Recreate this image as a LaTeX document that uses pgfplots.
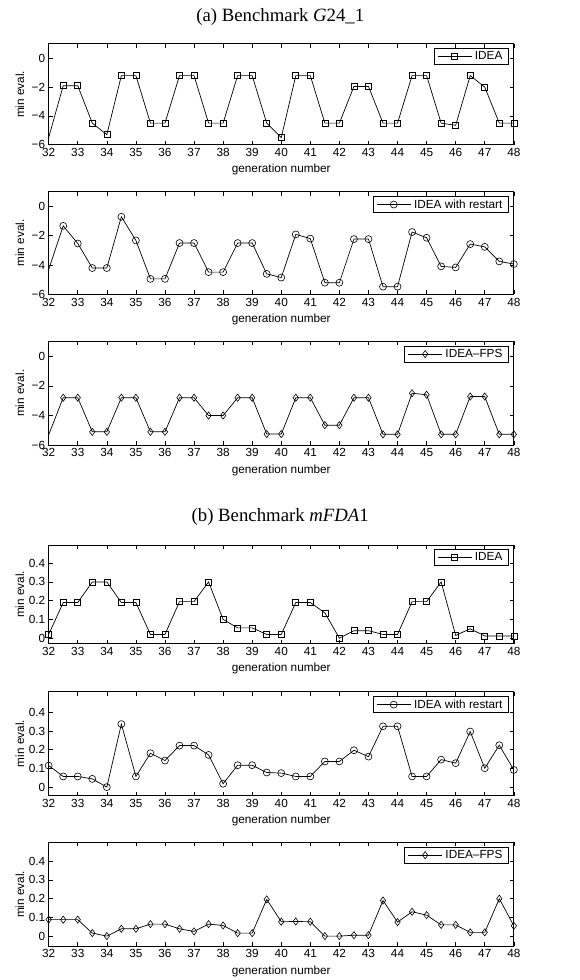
\documentclass[border=0pt]{standalone}
\usepackage{pgfplots}
\pgfplotsset{compat=1.18}
\usepackage{fontspec}
\setmainfont{Liberation Sans}
\newfontfamily\timesfont{Liberation Serif}
\begin{document}
\pgfplotsset{
  myax/.style={
    scale only axis, width=466pt,
    xmin=32, xmax=48, xtick={32,33,...,48},
    axis line style={line width=0.9pt},
    every tick/.style={black, line width=0.6pt},
    major tick length=4pt,
    tick label style={font=\fontsize{11.8}{13}\selectfont},
    label style={font=\fontsize{11.8}{13}\selectfont},
    /pgf/number format/assume math mode=true,
    xlabel={generation number},
    ylabel={min eval.},
    xlabel style={at={(axis description cs:0.5,0)}, anchor=center, yshift=-25pt},
    ylabel style={at={(axis description cs:-0.062,0.5)}, anchor=center},
    legend style={at={(1,1)}, xshift=-5pt, yshift=-4.5pt, anchor=north east,
      draw=black, line width=0.8pt, font=\fontsize{11.8}{13}\selectfont,
      inner xsep=3pt, inner ysep=1.5pt, nodes={inner xsep=3pt, inner ysep=1.5pt}},
    legend image code/.code={\draw[mark repeat=2,mark phase=2,#1] plot coordinates {(0pt,0pt) (17pt,0pt) (34pt,0pt)};},
    every axis plot/.append style={black, line width=0.7pt, mark options={solid, line width=0.6pt}},
  },
  gax/.style={myax, ymin=-6, ymax=1, ytick={-6,-4,-2,0}, yticklabels={−6,−4,−2,0}},
  fax/.style={myax, ytick={0,0.1,0.2,0.3,0.4}, yticklabels={0,0.1,0.2,0.3,0.4}},
}
\begin{tikzpicture}
\path (0pt,0pt) rectangle (578pt,-980pt);
\node[font=\timesfont\fontsize{18.8}{21}\selectfont] at (278pt,-17pt) {(a) Benchmark \textit{G}24\_1};
\node[font=\timesfont\fontsize{18.8}{21}\selectfont] at (278pt,-518pt) {(b) Benchmark \textit{mFDA}1};

% G24_1 IDEA
\begin{axis}[gax, at={(46pt,-145pt)}, anchor=south west, height=101pt]
\addplot[mark=square, mark size=3pt, mark phase=2, mark repeat=1] coordinates {
(32,-5.5) (32.5,-1.9) (33,-1.9) (33.5,-4.5) (34,-5.3) (34.5,-1.2) (35,-1.2) (35.5,-4.5) (36,-4.5)
(36.5,-1.2) (37,-1.2) (37.5,-4.5) (38,-4.5) (38.5,-1.2) (39,-1.2) (39.5,-4.5) (40,-5.5)
(40.5,-1.2) (41,-1.2) (41.5,-4.5) (42,-4.5) (42.5,-1.95) (43,-1.95) (43.5,-4.5) (44,-4.5)
(44.5,-1.2) (45,-1.2) (45.5,-4.5) (46,-4.65) (46.5,-1.2) (47,-2.0) (47.5,-4.5) (48,-4.5)};
\addlegendentry{IDEA}
\end{axis}

% G24_1 IDEA with restart
\begin{axis}[gax, at={(46pt,-295pt)}, anchor=south west, height=103pt]
\addplot[mark=o, mark size=3.5pt, mark phase=2, mark repeat=1] coordinates {
(32,-4.3) (32.5,-1.33) (33,-2.53) (33.5,-4.2) (34,-4.2) (34.5,-0.71) (35,-2.32) (35.5,-4.94) (36,-4.94)
(36.5,-2.5) (37,-2.5) (37.5,-4.48) (38,-4.48) (38.5,-2.5) (39,-2.5) (39.5,-4.6) (40,-4.85)
(40.5,-1.91) (41,-2.2) (41.5,-5.2) (42,-5.2) (42.5,-2.23) (43,-2.23) (43.5,-5.47) (44,-5.47)
(44.5,-1.75) (45,-2.14) (45.5,-4.09) (46,-4.16) (46.5,-2.57) (47,-2.76) (47.5,-3.75) (48,-3.93)};
\addlegendentry{IDEA with restart}
\end{axis}

% G24_1 IDEA-FPS
\begin{axis}[gax, at={(46pt,-446pt)}, anchor=south west, height=104pt]
\addplot[mark=diamond, mark size=3.6pt, mark phase=2, mark repeat=1] coordinates {
(32,-5.3) (32.5,-2.8) (33,-2.8) (33.5,-5.1) (34,-5.1) (34.5,-2.8) (35,-2.8) (35.5,-5.1) (36,-5.1)
(36.5,-2.8) (37,-2.8) (37.5,-4.0) (38,-4.0) (38.5,-2.8) (39,-2.8) (39.5,-5.25) (40,-5.25)
(40.5,-2.8) (41,-2.8) (41.5,-4.65) (42,-4.65) (42.5,-2.8) (43,-2.8) (43.5,-5.27) (44,-5.27)
(44.5,-2.5) (45,-2.6) (45.5,-5.27) (46,-5.27) (46.5,-2.72) (47,-2.72) (47.5,-5.27) (48,-5.27)};
\addlegendentry{IDEA–FPS}
\end{axis}

% mFDA1 IDEA
\begin{axis}[fax, at={(46pt,-645pt)}, anchor=south west, height=99pt, ymin=-0.03, ymax=0.497]
\addplot[mark=square, mark size=3pt] coordinates {
(32,0.02) (32.5,0.19) (33,0.19) (33.5,0.30) (34,0.30) (34.5,0.19) (35,0.19) (35.5,0.02) (36,0.02)
(36.5,0.195) (37,0.195) (37.5,0.30) (38,0.10) (38.5,0.055) (39,0.055) (39.5,0.02) (40,0.02)
(40.5,0.19) (41,0.19) (41.5,0.135) (42,0.0) (42.5,0.04) (43,0.04) (43.5,0.02) (44,0.02)
(44.5,0.195) (45,0.195) (45.5,0.30) (46,0.015) (46.5,0.05) (47,0.012) (47.5,0.012) (48,0.012)};
\addlegendentry{IDEA}
\end{axis}

% mFDA1 IDEA with restart
\begin{axis}[fax, at={(46pt,-797pt)}, anchor=south west, height=104pt, ymin=-0.045, ymax=0.51]
\addplot[mark=o, mark size=3.5pt] coordinates {
(32,0.115) (32.5,0.057) (33,0.057) (33.5,0.044) (34,0.0) (34.5,0.337) (35,0.057) (35.5,0.181) (36,0.142)
(36.5,0.222) (37,0.222) (37.5,0.172) (38,0.018) (38.5,0.117) (39,0.117) (39.5,0.078) (40,0.075)
(40.5,0.057) (41,0.057) (41.5,0.137) (42,0.137) (42.5,0.197) (43,0.163) (43.5,0.325) (44,0.325)
(44.5,0.057) (45,0.057) (45.5,0.147) (46,0.128) (46.5,0.297) (47,0.101) (47.5,0.224) (48,0.092)};
\addlegendentry{IDEA with restart}
\end{axis}

% mFDA1 IDEA-FPS
\begin{axis}[fax, at={(46pt,-948pt)}, anchor=south west, height=104pt, ymin=-0.054, ymax=0.5]
\addplot[mark=diamond, mark size=3.6pt] coordinates {
(32,0.088) (32.5,0.088) (33,0.088) (33.5,0.016) (34,0.0) (34.5,0.039) (35,0.039) (35.5,0.064) (36,0.064)
(36.5,0.039) (37,0.025) (37.5,0.064) (38,0.057) (38.5,0.016) (39,0.016) (39.5,0.196) (40,0.077)
(40.5,0.078) (41,0.077) (41.5,0.0) (42,0.0) (42.5,0.005) (43,0.005) (43.5,0.19) (44,0.075)
(44.5,0.13) (45,0.112) (45.5,0.06) (46,0.06) (46.5,0.02) (47,0.02) (47.5,0.2) (48,0.055)};
\addlegendentry{IDEA–FPS}
\end{axis}
\end{tikzpicture}
\end{document}
